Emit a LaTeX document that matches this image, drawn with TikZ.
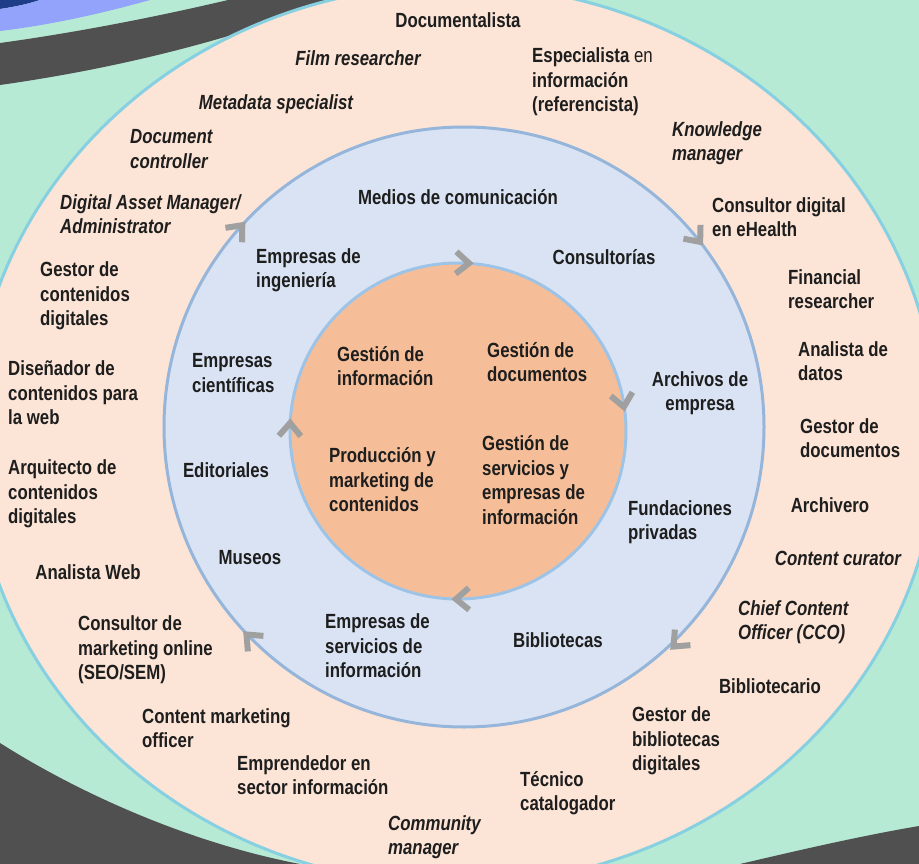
\documentclass[tikz,border=0pt]{standalone}
\usepackage{fontspec}
\setmainfont{Liberation Sans}[FakeStretch=0.82]
\newcommand\myLabelFont{\fontsize{20.5}{24.5}\selectfont\bfseries}
\definecolor{bgg}{HTML}{B7EAD4}
\definecolor{navyc}{HTML}{1F3C88}
\definecolor{peri}{HTML}{93A3FB}
\definecolor{dgray}{HTML}{505050}
\definecolor{peach}{HTML}{FCE4D6}
\definecolor{outerline}{HTML}{86D0E2}
\definecolor{midblue}{HTML}{DAE3F3}
\definecolor{midline}{HTML}{95B6DA}
\definecolor{innerfill}{HTML}{F6BE98}
\definecolor{innerline}{HTML}{9DC3E6}
\definecolor{chevc}{HTML}{A0A0A0}
\definecolor{ink}{HTML}{1E1E1E}
\begin{document}
\begin{tikzpicture}[x=1pt,y=-1pt,
  every node/.style={inner sep=0pt, text=ink, font=\myLabelFont},
  L/.style={anchor=west, align=left},
  C/.style={anchor=center, align=center},
  it/.style={font=\myLabelFont\itshape},
  chev/.style={draw=chevc, line width=6pt, miter limit=10, line cap=butt}]
\fill[bgg] (0,0) rectangle (919,864);
\useasboundingbox (0,0) rectangle (919,864);
% corner swooshes
\fill[navyc] (0,0) -- (40,0) .. controls (28,4) and (14,7) .. (0,9) -- cycle;
\fill[peri] (40,0) -- (150,0) .. controls (100,14) and (50,25) .. (0,31) -- (0,9) .. controls (14,7) and (28,4) .. (40,0) -- cycle;
\fill[dgray] (228,0) -- (335,0) .. controls (230,40) and (120,68) .. (0,85) -- (0,43) .. controls (80,32) and (160,16) .. (228,0) -- cycle;
\fill[dgray] (0,743) .. controls (90,800) and (200,845) .. (300,864) -- (0,864) -- cycle;
\fill[dgray] (740,864) .. controls (800,850) and (860,836) .. (919,826) -- (919,864) -- cycle;
% rings
\filldraw[fill=peach, draw=outerline, line width=3pt] (455,435) ellipse [x radius=483pt, y radius=450pt];
\filldraw[fill=midblue, draw=midline, line width=3pt] (464,427) circle [radius=300pt];
\filldraw[fill=innerfill, draw=innerline, line width=3pt] (458,431) circle [radius=168pt];
% chevrons inner
\draw[chev, shift={(464,263)}, rotate=-2] (-8,-11) -- (5,0) -- (-8,11);
\draw[chev, shift={(623,402)}, rotate=-80] (-8,-11) -- (5,0) -- (-8,11);
\draw[chev, shift={(461,599)}, rotate=-179] (-8,-11) -- (5,0) -- (-8,11);
\draw[chev, shift={(290,428)}, rotate=89] (-8,-11) -- (5,0) -- (-8,11);
% chevrons middle
\draw[chev, shift={(239,229)}, rotate=49] (-8,-11) -- (5,0) -- (-8,11);
\draw[chev, shift={(697,238)}, rotate=-51] (-8,-11) -- (5,0) -- (-8,11);
\draw[chev, shift={(677,643)}, rotate=-135] (-8,-11) -- (5,0) -- (-8,11);
\draw[chev, shift={(250,638)}, rotate=135] (-8,-11) -- (5,0) -- (-8,11);
% outer ring labels
\node[C] (o1) at (458,20) {Documentalista};
\node[C,it] (o2) at (358,58) {Film researcher};
\node[L] (o3) at (532,82) {Especialista {\mdseries en}\\información\\(referencista)};
\node[C,it] (o4) at (276,104) {Metadata specialist};
\node[L,it] (o5) at (672,143) {Knowledge\\manager};
\node[L,it] (o6) at (130,149) {Document\\controller};
\node[L,it] (o7) at (60,214) {Digital Asset Manager/\\Administrator};
\node[L] (o8) at (712,217) {Consultor digital\\en eHealth};
\node[L] (o9) at (40,296) {Gestor de\\contenidos\\digitales};
\node[L] (o10) at (788,289) {Financial\\researcher};
\node[L] (o11) at (8,393) {Diseñador de\\contenidos para\\la web};
\node[L] (o12) at (798,361) {Analista de\\datos};
\node[L] (o13) at (800,438) {Gestor de\\documentos};
\node[L] (o14) at (8,494) {Arquitecto de\\contenidos\\digitales};
\node[C] (o15) at (830,505) {Archivero};
\node[C,it] (o16) at (838,558) {Content curator};
\node[C] (o17) at (88,572) {Analista Web};
\node[L,it] (o18) at (738,622) {Chief Content\\Officer (CCO)};
\node[L] (o19) at (78,650) {Consultor de\\marketing online\\(SEO/SEM)};
\node[C] (o20) at (770,686) {Bibliotecario};
\node[L] (o21) at (142,728) {Content marketing\\officer};
\node[L] (o22) at (632,741) {Gestor de\\bibliotecas\\digitales};
\node[L] (o23) at (237,775) {Emprendedor en\\sector información};
\node[L] (o24) at (520,793) {Técnico\\catalogador};
\node[L,it] (o25) at (388,837) {Community\\manager};
% middle ring labels
\node[C] (m1) at (458,197) {Medios de comunicación};
\node[L] (m2) at (256,270) {Empresas de\\ingeniería};
\node[C] (m3) at (604,257) {Consultorías};
\node[L] (m4) at (192,373) {Empresas\\científicas};
\node[C] (m5) at (700,393) {Archivos de\\empresa};
\node[C] (m6) at (226,470) {Editoriales};
\node[L] (m7) at (628,522) {Fundaciones\\privadas};
\node[C] (m8) at (250,558) {Museos};
\node[L] (m9) at (325,646) {Empresas de\\servicios de\\información};
\node[C] (m10) at (558,640) {Bibliotecas};
% inner labels
\node[L] (i1) at (337,366) {Gestión de\\información};
\node[L] (i2) at (487,362) {Gestión de\\documentos};
\node[L] (i3) at (329,480) {Producción y\\marketing de\\contenidos};
\node[L] (i4) at (482,480) {Gestión de\\servicios y\\empresas de\\información};
\end{tikzpicture}
\end{document}
